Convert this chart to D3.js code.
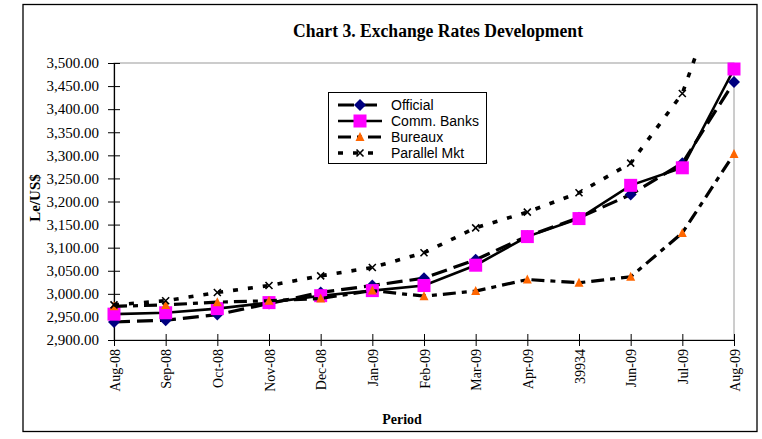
<!DOCTYPE html>
<html>
<head>
<meta charset="utf-8">
<script src="https://cdn.jsdelivr.net/npm/d3@7"></script>
<style>
  html, body { margin: 0; padding: 0; background: #fff; }
  svg { display: block; }
</style>
</head>
<body>
<svg id="chart" width="762" height="439"></svg>
<script>
const categories = ["Aug-08","Sep-08","Oct-08","Nov-08","Dec-08","Jan-09","Feb-09","Mar-09","Apr-09","39934","Jun-09","Jul-09","Aug-09"];
const official   = [2939, 2943, 2955, 2979, 3003, 3018, 3034, 3074, 3125, 3165, 3215, 3283, 3459];
const commBanks  = [2956, 2959, 2968, 2981, 2996, 3007, 3018, 3062, 3124, 3163, 3235, 3273, 3487];
const bureaux    = [2973, 2976, 2982, 2985, 2990, 3007, 2995, 3006, 3031, 3024, 3037, 3132, 3303];
const parallel   = [2976, 2985, 3003, 3018, 3039, 3057, 3089, 3143, 3177, 3219, 3283, 3434, 3750];
const seriesNames = ["Official", "Comm. Banks", "Bureaux", "Parallel Mkt"];
const yTicks = [2900, 2950, 3000, 3050, 3100, 3150, 3200, 3250, 3300, 3350, 3400, 3450, 3500];

const svg = d3.select("#chart");
const serif = "'Liberation Serif', 'Times New Roman', serif";
const sans = "'Liberation Sans', Arial, sans-serif";

const plot = {left: 114, right: 734, top: 63, bottom: 340};
const x = d3.scalePoint().domain(categories).range([plot.left, plot.right]).padding(0);
const y = d3.scaleLinear().domain([2900, 3500]).range([plot.bottom, plot.top]);

// chart border
svg.append("rect").attr("x", 23).attr("y", 4.5).attr("width", 734).attr("height", 427)
  .attr("fill", "none").attr("stroke", "#000").attr("stroke-width", 1.3);

// plot area border (gray, top and right)
svg.append("rect").attr("x", plot.left).attr("y", plot.top)
  .attr("width", plot.right - plot.left).attr("height", plot.bottom - plot.top)
  .attr("fill", "none").attr("stroke", "#9a9a9a").attr("stroke-width", 1);

// title
svg.append("text").attr("x", 438).attr("y", 37).attr("text-anchor", "middle")
  .attr("font-family", serif).attr("font-weight", "bold").attr("font-size", 18)
  .attr("textLength", 290).attr("lengthAdjust", "spacingAndGlyphs")
  .text("Chart 3. Exchange Rates Development");

// y axis
const yAxis = svg.append("g").attr("transform", `translate(${plot.left},0)`)
  .call(d3.axisLeft(y).tickValues(yTicks).tickSizeInner(6).tickSizeOuter(0).tickPadding(9)
        .tickFormat(d3.format(",.2f")));
yAxis.select(".domain").attr("stroke", "#000").attr("stroke-width", 1.2);
yAxis.selectAll(".tick line").attr("x1", 6).attr("stroke", "#000");
yAxis.selectAll(".tick text").attr("font-family", serif).attr("font-size", 15).attr("fill", "#000");

// x axis
const xAxis = svg.append("g").attr("transform", `translate(0,${plot.bottom})`)
  .call(d3.axisBottom(x).tickSizeInner(6).tickSizeOuter(0).tickPadding(0));
xAxis.select(".domain").attr("stroke", "#000").attr("stroke-width", 1.2);
xAxis.selectAll(".tick line").attr("y1", -6).attr("stroke", "#000");
xAxis.selectAll(".tick text")
  .attr("font-family", serif).attr("font-size", 14).attr("fill", "#000")
  .attr("text-anchor", "end").attr("dy", null).attr("y", 0)
  .attr("transform", "translate(5,9) rotate(-90)");

// axis titles
svg.append("text").attr("transform", "translate(40,198) rotate(-90)").attr("text-anchor", "middle")
  .attr("font-family", serif).attr("font-weight", "bold").attr("font-size", 15).text("Le/US$");
svg.append("text").attr("x", 402).attr("y", 424).attr("text-anchor", "middle")
  .attr("font-family", serif).attr("font-weight", "bold").attr("font-size", 14).text("Period");

// clip
svg.append("defs").append("clipPath").attr("id", "clip")
  .append("rect").attr("x", 100).attr("y", 53).attr("width", 650).attr("height", 300);

const styles = [
  {values: official,  dash: "16,7",        width: 3.2, marker: "diamond"},
  {values: commBanks, dash: null,          width: 2.6, marker: "square"},
  {values: bureaux,   dash: "13,6,5,6",    width: 3.2, marker: "triangle"},
  {values: parallel,  dash: "5,10",        width: 3.6, marker: "x"}
];

function drawMarker(g, type, cx, cy) {
  if (type === "diamond") {
    g.append("path").attr("d", "M0,-6L6,0L0,6L-6,0Z").attr("transform", `translate(${cx},${cy})`)
      .attr("fill", "#000080");
  } else if (type === "square") {
    g.append("rect").attr("x", cx - 6.5).attr("y", cy - 6.5).attr("width", 13).attr("height", 13)
      .attr("fill", "#ff00ff");
  } else if (type === "triangle") {
    g.append("path").attr("d", "M0,-5L4.5,4L-4.5,4Z").attr("transform", `translate(${cx},${cy})`)
      .attr("fill", "#ff6600");
  } else {
    g.append("path").attr("d", "M-3.5,-3.5L3.5,3.5M-3.5,3.5L3.5,-3.5").attr("transform", `translate(${cx},${cy})`)
      .attr("stroke", "#000").attr("stroke-width", 1.6).attr("fill", "none");
  }
}

const dataG = svg.append("g").attr("clip-path", "url(#clip)");
const line = d3.line().x((d, i) => x(categories[i])).y(d => y(d));
styles.forEach(s => {
  dataG.append("path").datum(s.values).attr("d", line)
    .attr("fill", "none").attr("stroke", "#000").attr("stroke-width", s.width)
    .attr("stroke-dasharray", s.dash);
  const mg = dataG.append("g");
  s.values.forEach((v, i) => drawMarker(mg, s.marker, x(categories[i]), y(v)));
});

// legend
const lg = svg.append("g");
lg.append("rect").attr("x", 328.5).attr("y", 92.5).attr("width", 158).attr("height", 71)
  .attr("fill", "#fff").attr("stroke", "#000").attr("stroke-width", 1);
const rowsY = [105, 121, 137, 153];
styles.forEach((s, i) => {
  const ry = rowsY[i];
  lg.append("line").attr("x1", 338).attr("x2", 382).attr("y1", ry).attr("y2", ry)
    .attr("stroke", "#000").attr("stroke-width", s.width).attr("stroke-dasharray", s.dash);
  drawMarker(lg, s.marker, 360, ry);
  lg.append("text").attr("x", 391).attr("y", ry + 5).attr("font-family", sans).attr("font-size", 14)
    .text(seriesNames[i]);
});
</script>
</body>
</html>
